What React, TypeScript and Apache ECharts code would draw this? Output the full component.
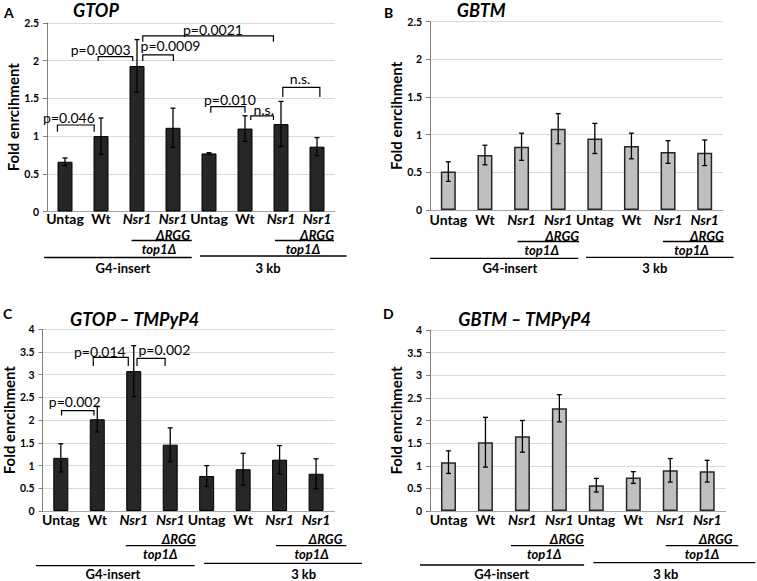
import React, { useEffect, useRef } from "react";
import * as echarts from "echarts";

const FONT = "Lato, 'Open Sans', sans-serif";

// ---- data ----
const categories = ["Untag", "Wt", "Nsr1", "Nsr1", "Untag", "Wt", "Nsr1", "Nsr1"];
const italicFlags = [false, false, true, true, false, false, true, true];

const gtopValues = [0.66, 1.0, 1.93, 1.11, 0.77, 1.1, 1.16, 0.86];
const gtopErrors = [0.05, 0.24, 0.35, 0.26, 0.01, 0.17, 0.3, 0.12];
const gbtmValues = [0.51, 0.73, 0.84, 1.08, 0.95, 0.85, 0.77, 0.76];
const gbtmErrors = [0.13, 0.13, 0.18, 0.2, 0.2, 0.17, 0.15, 0.17];
const gtopTmpValues = [1.17, 2.02, 3.08, 1.46, 0.77, 0.92, 1.13, 0.82];
const gtopTmpErrors = [0.31, 0.28, 0.56, 0.37, 0.23, 0.35, 0.31, 0.33];
const gbtmTmpValues = [1.08, 1.52, 1.65, 2.27, 0.57, 0.74, 0.9, 0.88];
const gbtmTmpErrors = [0.25, 0.55, 0.35, 0.3, 0.15, 0.13, 0.26, 0.24];

// significance brackets: [x1, x2, yTop, yLeg, textX, textY] (category units, data units)
const gtopBracketLabels = ["p=0.046", "p=0.0003", "p=0.0009", "p=0.0021", "p=0.010", "n.s.", "n.s."];
const gtopBrackets = [
  [-0.21, 0.81, 1.147, 1.058, 0.11, 1.25],
  [0.92, 1.88, 2.053, 1.996, 0.99, 2.155],
  [2.16, 3.01, 2.076, 1.996, 2.93, 2.2],
  [2.16, 5.79, 2.33, 2.25, 4.11, 2.416],
  [4.05, 5.0, 1.39, 1.31, 4.58, 1.488],
  [5.16, 5.79, 1.267, 1.213, 5.52, 1.355],
  [6.05, 7.08, 1.647, 1.52, 6.53, 1.767],
];
const gtopTmpBracketLabels = ["p=0.002", "p=0.014", "p=0.002"];
const gtopTmpBrackets = [
  [0.02, 0.91, 2.21, 2.1, 0.38, 2.41],
  [0.89, 1.85, 3.38, 3.19, 1.07, 3.52],
  [2.09, 2.86, 3.36, 3.19, 2.84, 3.56],
];

const groupNames = ["G4-insert", "3 kb"];
const subLabelTop = "ΔRGG";
const subLabelBottom = "top1Δ";

// ---- layout per panel ----
const panels = [
  {
    letter: "A", title: "GTOP", letterPos: [4, 12.5], titlePos: [73, 10],
    values: gtopValues, errors: gtopErrors, max: 2.5, dark: true,
    grid: { left: 47, top: 23, width: 288, height: 188.5 },
    labelMargin: 0, nameGap: 26,
    brackets: gtopBrackets, bracketLabels: gtopBracketLabels,
    ann: {
      drggX: [3.0, 7.0], drggDy: 23.5,
      shortRanges: [[1.85, 3.52], [5.83, 7.47]], shortDy: 29,
      top1X: [2.61, 6.61], top1Dy: 37.5,
      longRanges: [[-0.58, 3.52], [3.75, 7.82]], longDy: [46, 44.5],
      groupX: [1.61, 5.64], groupDy: 56,
    },
  },
  {
    letter: "B", title: "GBTM", letterPos: [384, 12], titlePos: [456.7, 10],
    values: gbtmValues, errors: gbtmErrors, max: 2.5, dark: false,
    grid: { left: 430, top: 21.7, width: 293, height: 188.3 },
    labelMargin: 2, nameGap: 26,
    brackets: [], bracketLabels: [],
    ann: {
      drggX: [3.11, 7.06], drggDy: 25.5,
      shortRanges: [[1.89, 3.57], [5.86, 7.52]], shortDy: 31.5,
      top1X: [2.55, 6.64], top1Dy: 40,
      longRanges: [[-0.5, 3.55], [3.76, 7.79]], longDy: [48.3, 47.3],
      groupX: [1.68, 5.64], groupDy: 58.3,
    },
  },
  {
    letter: "C", title: "GTOP – TMPyP4", letterPos: [3, 313], titlePos: [70, 319.3],
    values: gtopTmpValues, errors: gtopTmpErrors, max: 4, dark: true,
    grid: { left: 41.7, top: 329.3, width: 292.6, height: 181.7 },
    labelMargin: 1.5, nameGap: 23,
    brackets: gtopTmpBrackets, bracketLabels: gtopTmpBracketLabels,
    ann: {
      drggX: [3.23, 7.26], drggDy: 27.5,
      shortRanges: [[1.78, 3.7], [5.9, 7.83]], shortDy: 34.7,
      top1X: [2.73, 6.88], top1Dy: 43.3,
      longRanges: [[-0.68, 3.67], [3.93, 8.26]], longDy: [54.7, 52.3],
      groupX: [1.43, 6.66], groupDy: 63,
    },
  },
  {
    letter: "D", title: "GBTM – TMPyP4", letterPos: [383, 313], titlePos: [458.3, 319.3],
    values: gbtmTmpValues, errors: gbtmTmpErrors, max: 4, dark: false,
    grid: { left: 430, top: 330, width: 295.7, height: 181 },
    labelMargin: 1.5, nameGap: 23,
    brackets: [], bracketLabels: [],
    ann: {
      drggX: [3.2, 7.23], drggDy: 27.5,
      shortRanges: [[1.69, 3.67], [5.88, 7.84]], shortDy: 34.7,
      top1X: [2.59, 6.86], top1Dy: 43.3,
      longRanges: [[-0.77, 3.67], [3.92, 8.3]], longDy: [54, 51.7],
      groupX: [1.44, 5.88], groupDy: 63,
    },
  },
];

const lineStyle = { stroke: "#000", lineWidth: 1.3 };

// pixel x of a (possibly fractional) category position, derived from the axis
const catX = (api: any, c: number) => {
  const x0 = api.coord([0, 0])[0];
  const x1 = api.coord([1, 0])[0];
  return x0 + c * (x1 - x0);
};

export default function App() {
  const ref = useRef<HTMLDivElement>(null);
  useEffect(() => {
    document.body.style.margin = "0";
    const chart = echarts.init(ref.current as HTMLDivElement, null, { renderer: "svg" });
    const grids: any[] = [];
    const xAxes: any[] = [];
    const yAxes: any[] = [];
    const series: any[] = [];
    const graphics: any[] = [];

    panels.forEach((p, gi) => {
      grids.push({ left: p.grid.left, top: p.grid.top, width: p.grid.width, height: p.grid.height });
      xAxes.push({
        type: "category",
        gridIndex: gi,
        data: categories,
        axisTick: { show: false },
        axisLine: { show: true, lineStyle: { color: "#a6a6a6", width: 1 } },
        axisLabel: {
          interval: 0,
          margin: p.labelMargin,
          formatter: (v: string, i: number) => (italicFlags[i] ? `{i|${v}}` : `{n|${v}}`),
          rich: {
            n: { fontFamily: FONT, fontWeight: "bold", fontSize: 14, color: "#000" },
            i: { fontFamily: FONT, fontWeight: "bold", fontStyle: "italic", fontSize: 14, color: "#000" },
          },
        },
      });
      yAxes.push({
        type: "value",
        gridIndex: gi,
        min: 0,
        max: p.max,
        interval: 0.5,
        name: "Fold enrcihment",
        nameLocation: "middle",
        nameGap: p.nameGap,
        nameTextStyle: { fontFamily: FONT, fontWeight: "bold", fontSize: 15, color: "#000" },
        axisLine: { show: true, lineStyle: { color: "#7f7f7f", width: 1 } },
        axisTick: { show: true, length: 4, lineStyle: { color: "#7f7f7f" } },
        axisLabel: { fontFamily: FONT, fontWeight: "bold", fontSize: 10.5, color: "#000", margin: 8 },
        splitLine: { show: true, lineStyle: { color: "#d9d9d9", width: 1 } },
      });
      series.push({
        type: "bar",
        xAxisIndex: gi,
        yAxisIndex: gi,
        data: p.values,
        barWidth: 15,
        itemStyle: {
          color: p.dark ? "#262626" : "#bfbfbf",
          borderColor: p.dark ? "#000" : "#262626",
          borderWidth: p.dark ? 1 : 1.5,
        },
      });
      series.push({
        type: "custom",
        xAxisIndex: gi,
        yAxisIndex: gi,
        z: 10,
        data: p.values.map((v, i) => [i, v - p.errors[i], v + p.errors[i]]),
        renderItem: (params: any, api: any) => {
          const x = api.value(0);
          const lo = api.coord([x, api.value(1)]);
          const hi = api.coord([x, api.value(2)]);
          const cw = 2.5;
          return {
            type: "group",
            children: [
              { type: "line", shape: { x1: lo[0], y1: lo[1], x2: hi[0], y2: hi[1] }, style: lineStyle },
              { type: "line", shape: { x1: hi[0] - cw, y1: hi[1], x2: hi[0] + cw, y2: hi[1] }, style: lineStyle },
              { type: "line", shape: { x1: lo[0] - cw, y1: lo[1], x2: lo[0] + cw, y2: lo[1] }, style: lineStyle },
            ],
          };
        },
      });
      if (p.brackets.length) {
        series.push({
          type: "custom",
          xAxisIndex: gi,
          yAxisIndex: gi,
          clip: false,
          z: 11,
          data: p.brackets,
          renderItem: (params: any, api: any) => {
            const b = p.brackets[params.dataIndex];
            const Y = (v: number) => api.coord([0, v])[1];
            const xa = catX(api, b[0]);
            const xb = catX(api, b[1]);
            const yt = Y(b[2]);
            const yl = Y(b[3]);
            return {
              type: "group",
              children: [
                {
                  type: "polyline",
                  shape: { points: [[xa, yl], [xa, yt], [xb, yt], [xb, yl]] },
                  style: { stroke: "#000", lineWidth: 1.2, fill: null },
                },
                {
                  type: "text",
                  x: catX(api, b[4]),
                  y: Y(b[5]),
                  style: {
                    text: p.bracketLabels[params.dataIndex],
                    font: `14px ${FONT}`,
                    fill: "#000",
                    align: "center",
                    verticalAlign: "middle",
                  },
                },
              ],
            };
          },
        });
      }
      // category sub-labels and group lines, placed from the category axis
      series.push({
        type: "custom",
        xAxisIndex: gi,
        yAxisIndex: gi,
        clip: false,
        z: 11,
        data: [[0, 0]],
        renderItem: (params: any, api: any) => {
          const A = p.ann;
          const y0 = api.coord([0, 0])[1];
          const X = (c: number) => catX(api, c);
          const children: any[] = [];
          const txt = (x: number, y: number, s: string, italic: boolean) => ({
            type: "text",
            x,
            y,
            style: {
              text: s,
              font: `${italic ? "italic " : ""}bold 13px ${FONT}`,
              fill: "#000",
              align: "center",
              verticalAlign: "middle",
            },
          });
          A.drggX.forEach((c) => children.push(txt(X(c), y0 + A.drggDy, subLabelTop, true)));
          A.shortRanges.forEach((r) =>
            children.push({ type: "line", shape: { x1: X(r[0]), y1: y0 + A.shortDy, x2: X(r[1]), y2: y0 + A.shortDy }, style: lineStyle })
          );
          A.top1X.forEach((c) => children.push(txt(X(c), y0 + A.top1Dy, subLabelBottom, true)));
          A.longRanges.forEach((r, k) =>
            children.push({ type: "line", shape: { x1: X(r[0]), y1: y0 + A.longDy[k], x2: X(r[1]), y2: y0 + A.longDy[k] }, style: lineStyle })
          );
          A.groupX.forEach((c, k) => children.push(txt(X(c), y0 + A.groupDy, groupNames[k], false)));
          return { type: "group", children };
        },
      });

      graphics.push({
        type: "text",
        x: p.letterPos[0],
        y: p.letterPos[1],
        style: { text: p.letter, font: `bold 14px ${FONT}`, fill: "#000", verticalAlign: "middle" },
      });
      graphics.push({
        type: "text",
        x: p.titlePos[0],
        y: p.titlePos[1],
        style: { text: p.title, font: `italic bold 18px ${FONT}`, fill: "#000", verticalAlign: "middle" },
      });
    });

    chart.setOption({
      animation: false,
      backgroundColor: "#fff",
      grid: grids,
      xAxis: xAxes,
      yAxis: yAxes,
      series,
      graphic: graphics,
    });
    return () => chart.dispose();
  }, []);
  return <div ref={ref} style={{ width: 757, height: 581 }} />;
}
